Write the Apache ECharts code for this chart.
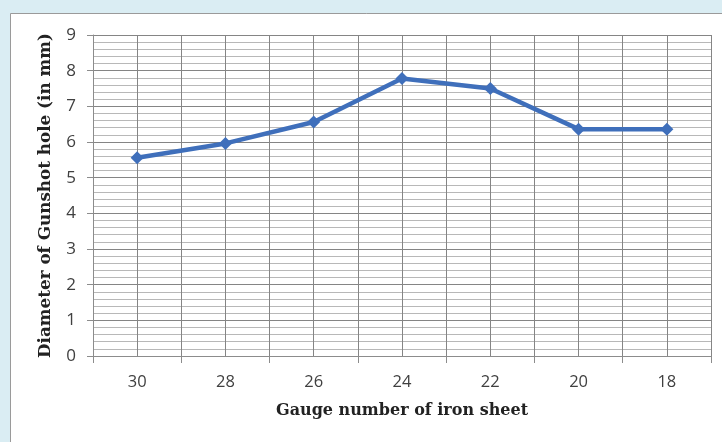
<!DOCTYPE html>
<html>
<head>
<meta charset="utf-8">
<script src="https://cdn.jsdelivr.net/npm/echarts@6/dist/echarts.min.js"></script>
<style>
  html, body { margin: 0; padding: 0; background: #daedf3; }
  #chart { width: 722px; height: 442px; }
</style>
</head>
<body>
<div id="chart"></div>
<script>
// Gauge numbers of the iron sheets, thickest last
const gauges = ['30', '28', '26', '24', '22', '20', '18'];
// Measured diameter of the gunshot hole (mm)
const diameters = [5.56, 5.96, 6.56, 7.78, 7.5, 6.36, 6.36];
const yTicks = { min: 0, max: 9, interval: 1 };

const chart = echarts.init(document.getElementById('chart'), null, { renderer: 'canvas' });

const labelFont = '"Open Sans", "Liberation Sans", sans-serif';
const titleFont = '"DejaVu Serif", "Liberation Serif", serif';

chart.setOption({
  backgroundColor: 'transparent',
  animation: false,
  graphic: [{
    type: 'rect',
    z: -10,
    shape: { x: 10.5, y: 13.5, width: 730, height: 440 },
    style: { fill: '#ffffff', stroke: '#9a9a9a', lineWidth: 1 }
  }],
  grid: { left: 93, right: 11, top: 35, bottom: 86 },
  xAxis: [{
    type: 'category',
    data: gauges,
    boundaryGap: true,
    name: 'Gauge number of iron sheet',
    nameLocation: 'middle',
    nameGap: 47,
    nameTextStyle: { fontFamily: titleFont, fontWeight: 'bold', fontSize: 16, color: '#222' },
    axisLine: { lineStyle: { color: '#8c8c8c' } },
    axisTick: { show: true, length: 7, lineStyle: { color: '#8c8c8c' } },
    axisLabel: { fontFamily: labelFont, fontSize: 16.5, color: '#404040', margin: 18 },
    splitLine: { show: false }
  }, {
    // half-step axis that only supplies the vertical grid lines
    type: 'value',
    position: 'bottom',
    min: 0, max: 7, interval: 0.5,
    axisLine: { show: false },
    axisTick: { show: false },
    axisLabel: { show: false },
    splitLine: { show: true, lineStyle: { color: '#858585', width: 1 } }
  }],
  yAxis: {
    type: 'value',
    min: yTicks.min, max: yTicks.max, interval: yTicks.interval,
    name: 'Diameter of Gunshot hole (in mm)',
    nameLocation: 'middle',
    nameRotate: 90,
    nameGap: 39,
    nameTextStyle: { fontFamily: titleFont, fontWeight: 'bold', fontSize: 16.8, color: '#222' },
    axisLine: { show: true, lineStyle: { color: '#8c8c8c' } },
    axisTick: { show: true, length: 6, lineStyle: { color: '#8c8c8c' } },
    axisLabel: { fontFamily: labelFont, fontSize: 17, color: '#404040', margin: 17 },
    splitLine: { show: true, lineStyle: { color: '#858585', width: 1 } },
    minorTick: { show: false, splitNumber: 5 },
    minorSplitLine: { show: true, lineStyle: { color: '#b8b8b8', width: 1 } }
  },
  series: [{
    type: 'line',
    xAxisIndex: 0,
    data: diameters,
    symbol: 'diamond',
    symbolSize: 13,
    lineStyle: { color: '#3f6fbb', width: 4.5 },
    itemStyle: { color: '#3f6fbb' },
    z: 5
  }]
});
</script>
</body>
</html>
